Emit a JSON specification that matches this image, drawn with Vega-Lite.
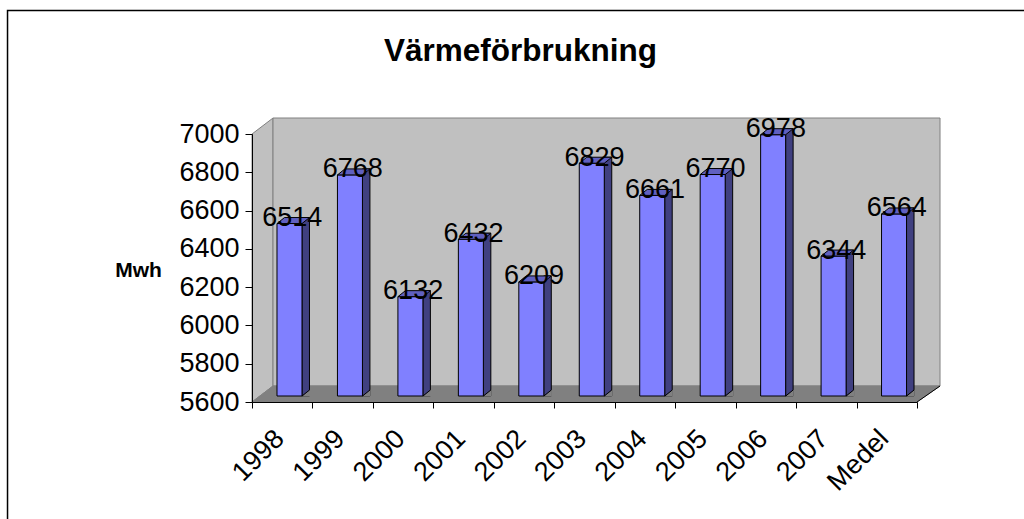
{
  "$schema": "https://vega.github.io/schema/vega-lite/v6.json",
  "width": 665,
  "height": 268,
  "autosize": {"type": "none"},
  "padding": {"left": 252, "top": 134, "right": 107, "bottom": 117},
  "background": "white",
  "title": {"text": "Värmeförbrukning", "font": "Liberation Sans", "fontSize": 31.5, "fontWeight": "bold", "color": "black", "anchor": "middle", "frame": "group", "dx": -64, "baseline": "alphabetic", "offset": -85},
  "config": {
    "view": {"stroke": null},
    "font": "Liberation Sans",
    "numberFormat": "d",
    "axis": {"labelFont": "Liberation Sans", "labelFontSize": 27, "labelColor": "black", "tickColor": "black", "domainColor": "black", "grid": false, "labelOverlap": false, "labelFlush": false},
    "axisX": {"labelAngle": -45, "labelAlign": "right", "labelBaseline": "top", "labelOffset": -12, "labelPadding": 17, "tickBand": "extent", "tickSize": 6},
    "axisY": {"labelPadding": 6, "tickSize": 7, "tickCount": 8, "titleFont": "Liberation Sans", "titleFontSize": 21, "titleFontWeight": "bold", "titleColor": "black", "titleAngle": 0, "titleAlign": "center", "titleBaseline": "middle", "titleX": -114, "titleY": 136}
  },
  "data": {"values": [
    {"year": "1998", "v": 6514},
    {"year": "1999", "v": 6768},
    {"year": "2000", "v": 6132},
    {"year": "2001", "v": 6432},
    {"year": "2002", "v": 6209},
    {"year": "2003", "v": 6829},
    {"year": "2004", "v": 6661},
    {"year": "2005", "v": 6770},
    {"year": "2006", "v": 6978},
    {"year": "2007", "v": 6344},
    {"year": "Medel", "v": 6564}
  ]},
  "layer": [
    {
      "data": {"values": [{}]},
      "mark": {"type": "point", "shape": "M-274.7,200L-274.7,-391.5L760,-391.5", "size": 4, "filled": false, "stroke": "black", "strokeWidth": 1.5, "opacity": 1},
      "encoding": {"x": {"datum": "1998", "type": "nominal"}, "y": {"datum": 5600, "type": "quantitative"}}
    },
    {
      "data": {"values": [{}]},
      "mark": {"type": "point", "shape": "M-30.2,0L-30.2,-268L-9.2,-284L-9.2,-16Z", "size": 4, "filled": true, "fill": "#C0C0C0", "stroke": "#808080", "strokeWidth": 1, "opacity": 1},
      "encoding": {"x": {"datum": "1998", "type": "nominal"}, "y": {"datum": 5600, "type": "quantitative"}}
    },
    {
      "data": {"values": [{}]},
      "mark": {"type": "point", "shape": "M-9.2,-16L657.8,-16L657.8,-284L-9.2,-284Z", "size": 4, "filled": true, "fill": "#C0C0C0", "stroke": "#808080", "strokeWidth": 1, "opacity": 1},
      "encoding": {"x": {"datum": "1998", "type": "nominal"}, "y": {"datum": 5600, "type": "quantitative"}}
    },
    {
      "data": {"values": [{}]},
      "mark": {"type": "point", "shape": "M-30.2,0L634.8,0L657.8,-16L-9.2,-16Z", "size": 4, "filled": true, "fill": "#808080", "stroke": "#808080", "strokeWidth": 1, "opacity": 1},
      "encoding": {"x": {"datum": "1998", "type": "nominal"}, "y": {"datum": 5600, "type": "quantitative"}}
    },
    {
      "data": {"values": [{}]},
      "mark": {"type": "point", "shape": "M634.8,0L657.8,-16", "size": 4, "filled": false, "stroke": "black", "strokeWidth": 1, "opacity": 1},
      "encoding": {"x": {"datum": "1998", "type": "nominal"}, "y": {"datum": 5600, "type": "quantitative"}}
    },
    {
      "mark": {"type": "bar", "width": 7.5, "xOffset": 23.5, "yOffset": -9.5, "y2Offset": -6, "fill": "#404080", "stroke": "black", "strokeWidth": 1},
      "encoding": {
        "x": {"field": "year", "type": "nominal"},
        "y": {"field": "v", "type": "quantitative"},
        "y2": {"datum": 5600}
      }
    },
    {
      "mark": {"type": "point", "shape": "M19.8,-5.4L27.9,-12.5L27.9,-5.4Z", "size": 4, "filled": true, "fill": "#808080", "strokeWidth": 0, "opacity": 1},
      "encoding": {"x": {"field": "year", "type": "nominal"}, "y": {"datum": 5600, "type": "quantitative"}}
    },
    {
      "mark": {"type": "point", "shape": "M19.8,-6L27.3,-12", "size": 4, "filled": false, "stroke": "black", "strokeWidth": 1, "opacity": 1},
      "encoding": {"x": {"field": "year", "type": "nominal"}, "y": {"datum": 5600, "type": "quantitative"}}
    },
    {
      "mark": {"type": "bar", "width": 25, "xOffset": 7.27, "yOffset": -3.5, "y2Offset": -6, "fill": "#8080FF", "stroke": "black", "strokeWidth": 1},
      "encoding": {
        "x": {
          "field": "year", "type": "nominal", "sort": null,
          "scale": {"domain": ["1998", "1999", "2000", "2001", "2002", "2003", "2004", "2005", "2006", "2007", "Medel"], "paddingInner": 0, "paddingOuter": 0},
          "axis": {"title": null, "labelAngle": -45, "labelAlign": "right", "labelBaseline": "top", "labelFont": "Liberation Sans", "labelFontSize": 27, "labelColor": "black", "labelOffset": -12, "labelPadding": 17, "labelOverlap": false, "labelFlush": false, "tickBand": "extent", "tickSize": 6, "tickColor": "black", "domainColor": "black", "grid": false, "zindex": 1}
        },
        "y": {
          "field": "v", "type": "quantitative",
          "scale": {"domain": [5600, 7000], "nice": false, "zero": false},
          "axis": {"title": "Mwh", "values": [5600, 5800, 6000, 6200, 6400, 6600, 6800, 7000], "format": "d", "labelFont": "Liberation Sans", "labelFontSize": 27, "labelColor": "black", "labelPadding": 6, "labelOverlap": false, "labelFlush": false, "tickSize": 7, "tickColor": "black", "domainColor": "black", "grid": false, "zindex": 1, "titleFont": "Liberation Sans", "titleFontSize": 21, "titleFontWeight": "bold", "titleColor": "black", "titleAngle": 0, "titleAlign": "center", "titleBaseline": "middle", "titleX": -114, "titleY": 136}
        },
        "y2": {"datum": 5600}
      }
    },
    {
      "mark": {"type": "point", "shape": "M-5.2,-3.5L19.8,-3.5L27.3,-9.5L2.3,-9.5Z", "size": 4, "filled": true, "fill": "#6060C0", "stroke": "black", "strokeWidth": 1, "opacity": 1},
      "encoding": {"x": {"field": "year", "type": "nominal"}, "y": {"field": "v", "type": "quantitative"}}
    },
    {
      "mark": {"type": "text", "font": "Liberation Sans", "fontSize": 27, "color": "black", "align": "center", "baseline": "middle", "dx": 10, "dy": -9},
      "encoding": {
        "x": {"field": "year", "type": "nominal"},
        "y": {"field": "v", "type": "quantitative"},
        "text": {"field": "v", "type": "quantitative", "format": "d"}
      }
    }
  ]
}
